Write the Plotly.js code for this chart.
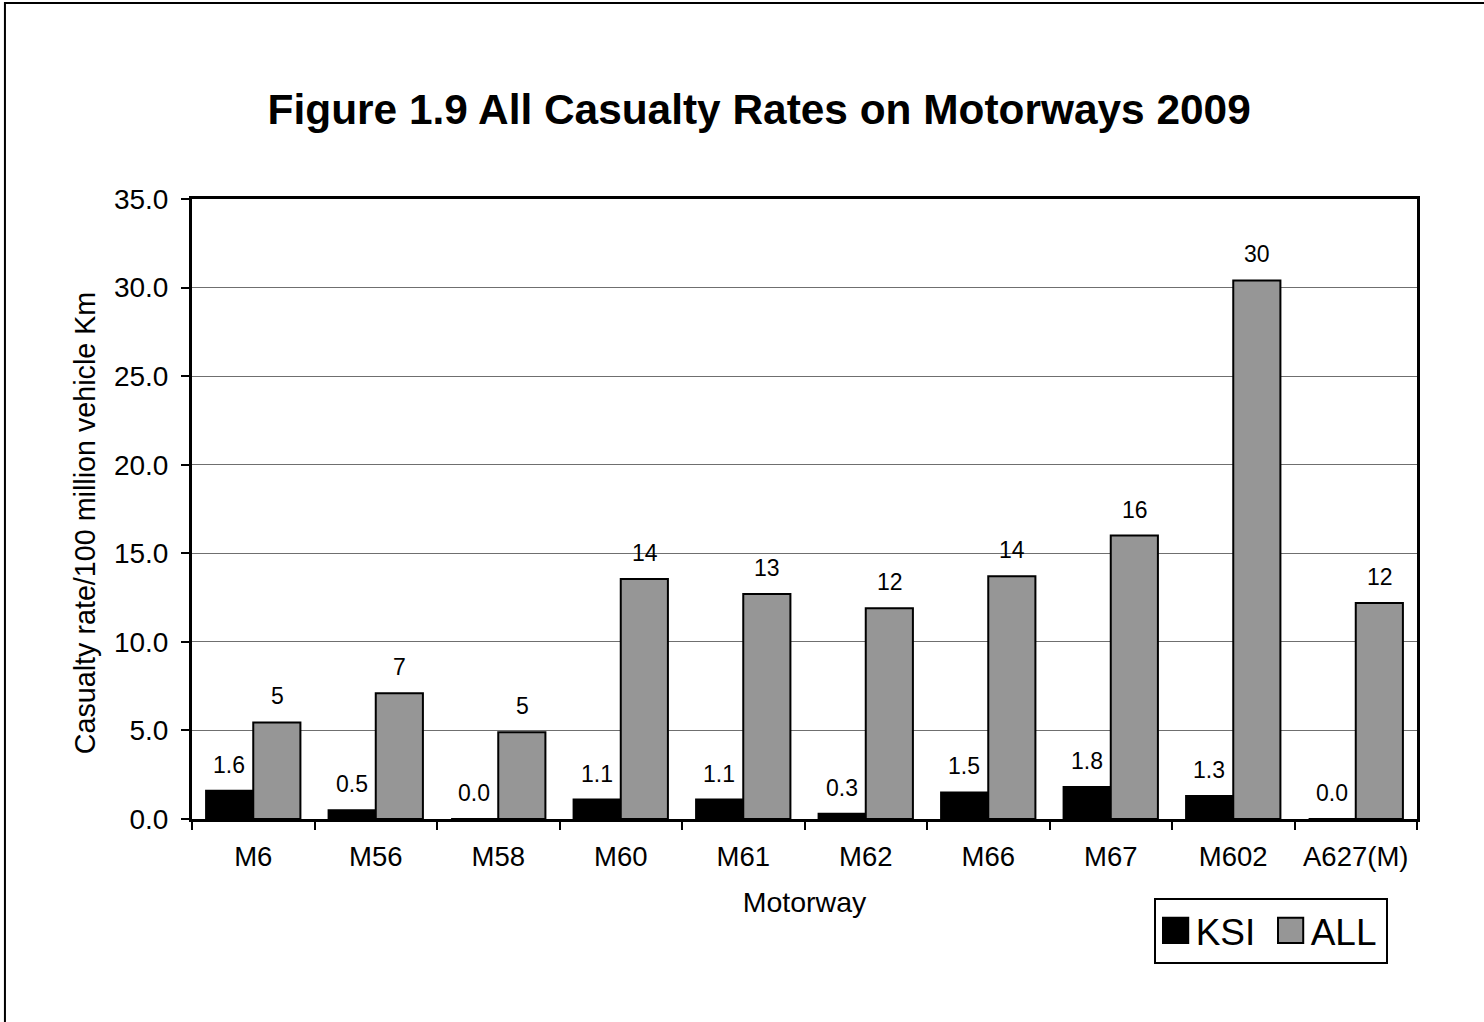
<!DOCTYPE html>
<html>
<head>
<meta charset="utf-8">
<script src="https://cdn.plot.ly/plotly-3.0.1.min.js"></script>
<style>
  html, body { margin: 0; padding: 0; background: #ffffff; }
  #chart { width: 1484px; height: 1022px; }
</style>
</head>
<body>
<div id="chart"></div>
<script>
// ---- data ----
const motorways = ["M6", "M56", "M58", "M60", "M61", "M62", "M66", "M67", "M602", "A627(M)"];
const ksiRates = [1.6, 0.5, 0.0, 1.1, 1.1, 0.3, 1.5, 1.8, 1.3, 0.0];
const allRates = [5.45, 7.1, 4.9, 13.55, 12.7, 11.9, 13.7, 16.0, 30.4, 12.2];
const yTickVals = [0, 5, 10, 15, 20, 25, 30, 35];

const FONT = "Arial, 'Liberation Sans', sans-serif";

const traces = [
  {
    type: "bar", name: "KSI", x: motorways, y: ksiRates,
    marker: { color: "#000000", line: { color: "#000000", width: 2 } },
    hoverinfo: "x+y"
  },
  {
    type: "bar", name: "ALL", x: motorways, y: allRates,
    marker: { color: "#969696", line: { color: "#000000", width: 2 } },
    hoverinfo: "x+y"
  }
];

// value labels above each bar, positioned from the data
const annotations = [];
motorways.forEach((m, i) => {
  annotations.push({
    x: m, y: ksiRates[i], xref: "x", yref: "y",
    text: ksiRates[i].toFixed(1), showarrow: false,
    xanchor: "center", yanchor: "bottom", xshift: -24, yshift: 11,
    font: { family: FONT, size: 23, color: "#000" }
  });
  annotations.push({
    x: m, y: allRates[i], xref: "x", yref: "y",
    text: allRates[i].toFixed(0), showarrow: false,
    xanchor: "center", yanchor: "bottom", xshift: 24, yshift: 11,
    font: { family: FONT, size: 23, color: "#000" }
  });
});

const layout = {
  width: 1484, height: 1022,
  paper_bgcolor: "#ffffff", plot_bgcolor: "#ffffff",
  font: { family: FONT, color: "#000" },
  margin: { l: 192, r: 67, t: 199, b: 203, pad: 0 },
  title: {
    text: "<b>Figure 1.9 All Casualty Rates on Motorways 2009</b>",
    font: { family: FONT, size: 42.4, color: "#000" },
    xref: "paper", x: 0.463, xanchor: "center",
    yref: "container", y: 0.893, yanchor: "middle"
  },
  barmode: "group", bargap: 0.23, bargroupgap: 0,
  xaxis: {
    type: "category",
    showline: true, linecolor: "#000", linewidth: 3, mirror: true,
    ticks: "outside", tickson: "boundaries", ticklen: 8, tickwidth: 2, tickcolor: "#000",
    tickfont: { family: FONT, size: 27.5, color: "#000" },
    ticklabelstandoff: 11,
    showgrid: false, zeroline: false, automargin: false,
    title: { text: "Motorway", font: { family: FONT, size: 28.5, color: "#000" }, standoff: 22 }
  },
  yaxis: {
    range: [0, 35], tickvals: yTickVals, tickformat: ".1f",
    showline: true, linecolor: "#000", linewidth: 3, mirror: true,
    ticks: "outside", ticklen: 8, tickwidth: 2, tickcolor: "#000",
    tickfont: { family: FONT, size: 28, color: "#000" },
    ticklabelstandoff: 7,
    showgrid: true, gridcolor: "#6f6f6f", gridwidth: 1,
    zeroline: false, automargin: false,
    title: { text: "Casualty rate/100 million vehicle Km", font: { family: FONT, size: 28.7, color: "#000" }, standoff: 10 }
  },
  showlegend: true,
  legend: {
    orientation: "h", xref: "paper", yref: "paper",
    x: 0.785, xanchor: "left", y: -0.127, yanchor: "top",
    bgcolor: "#ffffff", bordercolor: "#000", borderwidth: 2,
    font: { family: FONT, size: 37, color: "#000" },
    itemwidth: 30, entrywidth: 70, entrywidthmode: "pixels", traceorder: "normal"
  },
  shapes: [
    { type: "rect", xref: "paper", yref: "paper",
      x0: -0.1527, x1: 2, y0: -2, y1: 1.316,
      line: { color: "#000", width: 2 }, fillcolor: "rgba(0,0,0,0)", layer: "below" }
  ],
  annotations: annotations
};

Plotly.newPlot("chart", traces, layout, { displayModeBar: false, staticPlot: true }).then(function (gd) {
  // enlarge legend swatches to match the reference
  gd.querySelectorAll(".legend .legendpoints path").forEach(function (p) {
    const t = p.getAttribute("transform") || "";
    p.setAttribute("transform", t + " scale(2.1)");
    p.style.vectorEffect = "non-scaling-stroke";
  });
  // the reference's y-axis title sits slightly below the plot centre
  const yt = gd.querySelector(".g-ytitle");
  if (yt) yt.setAttribute("transform", "translate(0,14)");
});
</script>
</body>
</html>
